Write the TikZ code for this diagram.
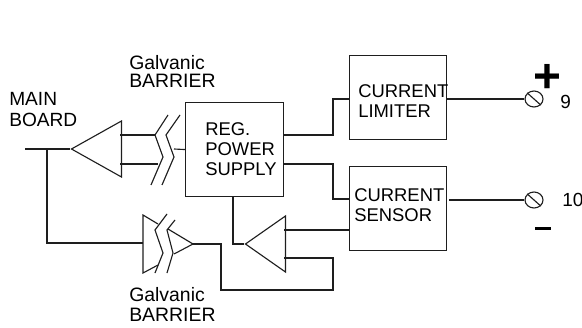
\documentclass[tikz,border=0pt]{standalone}
\usepackage{fontspec}
\setmainfont{Liberation Sans}
\usetikzlibrary{shapes.geometric,positioning,calc}
\definecolor{wirecol}{RGB}{30,30,30}
\begin{document}
\begin{tikzpicture}[
    x=0.025cm, y=-0.025cm,
    block/.style={rectangle, draw=wirecol, line width=0.8pt, inner sep=0pt, anchor=north west},
    amp/.style={isosceles triangle, shape border rotate=180, isosceles triangle stretches,
                draw=wirecol, line width=0.8pt, inner sep=0pt, anchor=apex,
                minimum width=56*0.025cm},
    wire/.style={draw=wirecol, line width=0.8pt},
    label/.style={font=\fontsize{13.1}{14.2}\selectfont, text=black, align=left, anchor=north west, inner sep=0pt},
    tag/.style={font=\fontsize{13.8}{13}\selectfont, text=black, align=left, anchor=north west, inner sep=0pt},
    terminal/.style={ellipse, draw=wirecol, line width=0.8pt, inner sep=0pt, minimum width=18*0.025cm, minimum height=16*0.025cm},
    pin/.style={font=\fontsize{13.5}{14}\selectfont, text=black, anchor=west, inner sep=0pt}
]
    \useasboundingbox (0,0) rectangle (582,327);
    % blocks
    \node[block, minimum width=98*0.025cm, minimum height=94*0.025cm] (regsupply) at (185,102) {};
    \node[block, minimum width=97*0.025cm, minimum height=84*0.025cm] (limiter) at (349,55) {};
    \node[block, minimum width=97*0.025cm, minimum height=84*0.025cm] (sensor) at (349,166) {};
    \node[label] (regtext) at (205,122) {REG.\\POWER\\SUPPLY};
    \node[label] (limtext) at (358,84) {CURRENT\\LIMITER};
    \node[label] (sentext) at (354,188) {CURRENT\\SENSOR};
    % amplifiers
    \node[amp, minimum height=50*0.025cm] (ampin) at (70,149) {};
    \node[amp, minimum height=40*0.025cm] (ampfb) at (244,244) {};
    % terminals
    \node[terminal] (termplus) at (534,99) {};
    \node[terminal] (termminus) at (534,200) {};
    \draw[wire] (termplus.north west) -- (termplus.south east);
    \draw[wire] (termminus.north west) -- (termminus.south east);
    \node[pin] (pinnine) at (560,102) {9};
    \node[pin] (pinten) at (562,200) {10};
    \node[font=\fontsize{34}{34}\bfseries\selectfont, inner sep=0pt] (plussign) at (547,78) {+};
    \node[fill=black, inner sep=0pt, minimum width=16*0.025cm, minimum height=3*0.025cm] (minussign) at (543,228) {};
    % labels
    \node[tag, font=\fontsize{13.6}{15}\selectfont] (mainboard) at (9,92) {MAIN\\BOARD};
    \node[tag] (barrierup) at (129,55) {Galvanic\\BARRIER};
    \node[tag, font=\fontsize{13.8}{14}\selectfont] (barrierdown) at (129,287) {Galvanic\\BARRIER};
    % upper barrier
    \draw[wire] (168,115) -- (155,135) -- (163,157) -- (151,185);
    \draw[wire] (180,115) -- (166,135) -- (174,157) -- (162,185);
    % lower barrier with split amplifier
    \draw[wire] (158,224) -- (143,215) -- (143,273) -- (158,265);
    \draw[wire] (167,214) -- (155,230) -- (163,253) -- (155,273);
    \draw[wire] (175,220) -- (167,230) -- (173,253) -- (167,273);
    \coordinate (apexlow) at (193,244);
    \draw[wire] (168,229) -- (apexlow) -- (174,254);
    % connectors
    \coordinate (inleft) at (25,149);
    \coordinate (branch) at (47,149);
    \coordinate (barleft) at (143,243);
    \draw[wire] (inleft) -- (ampin.apex);
    \draw[wire] (branch) |- (barleft);
    \draw[wire] (120,135) -- (155,135);
    \draw[wire] (120,164) -- (158,164);
    \draw[wire] (174,149) -- (regsupply.west);
    \draw[wire] (283,135) -| (333,99) -- (limiter.west |- 333,99);
    \draw[wire] (283,164) -| (333,199) -- (sensor.west |- 333,199);
    \draw[wire] (446,99) -- (termplus.west);
    \draw[wire] (449,200) -- (termminus.west);
    \draw[wire] (sensor.west |- 284,230) -- (284,230);
    \draw[wire] (233,196) |- (ampfb.apex);
    \draw[wire] (apexlow) -- (221,244) |- (333,290) |- (284,258);
\end{tikzpicture}
\end{document}
